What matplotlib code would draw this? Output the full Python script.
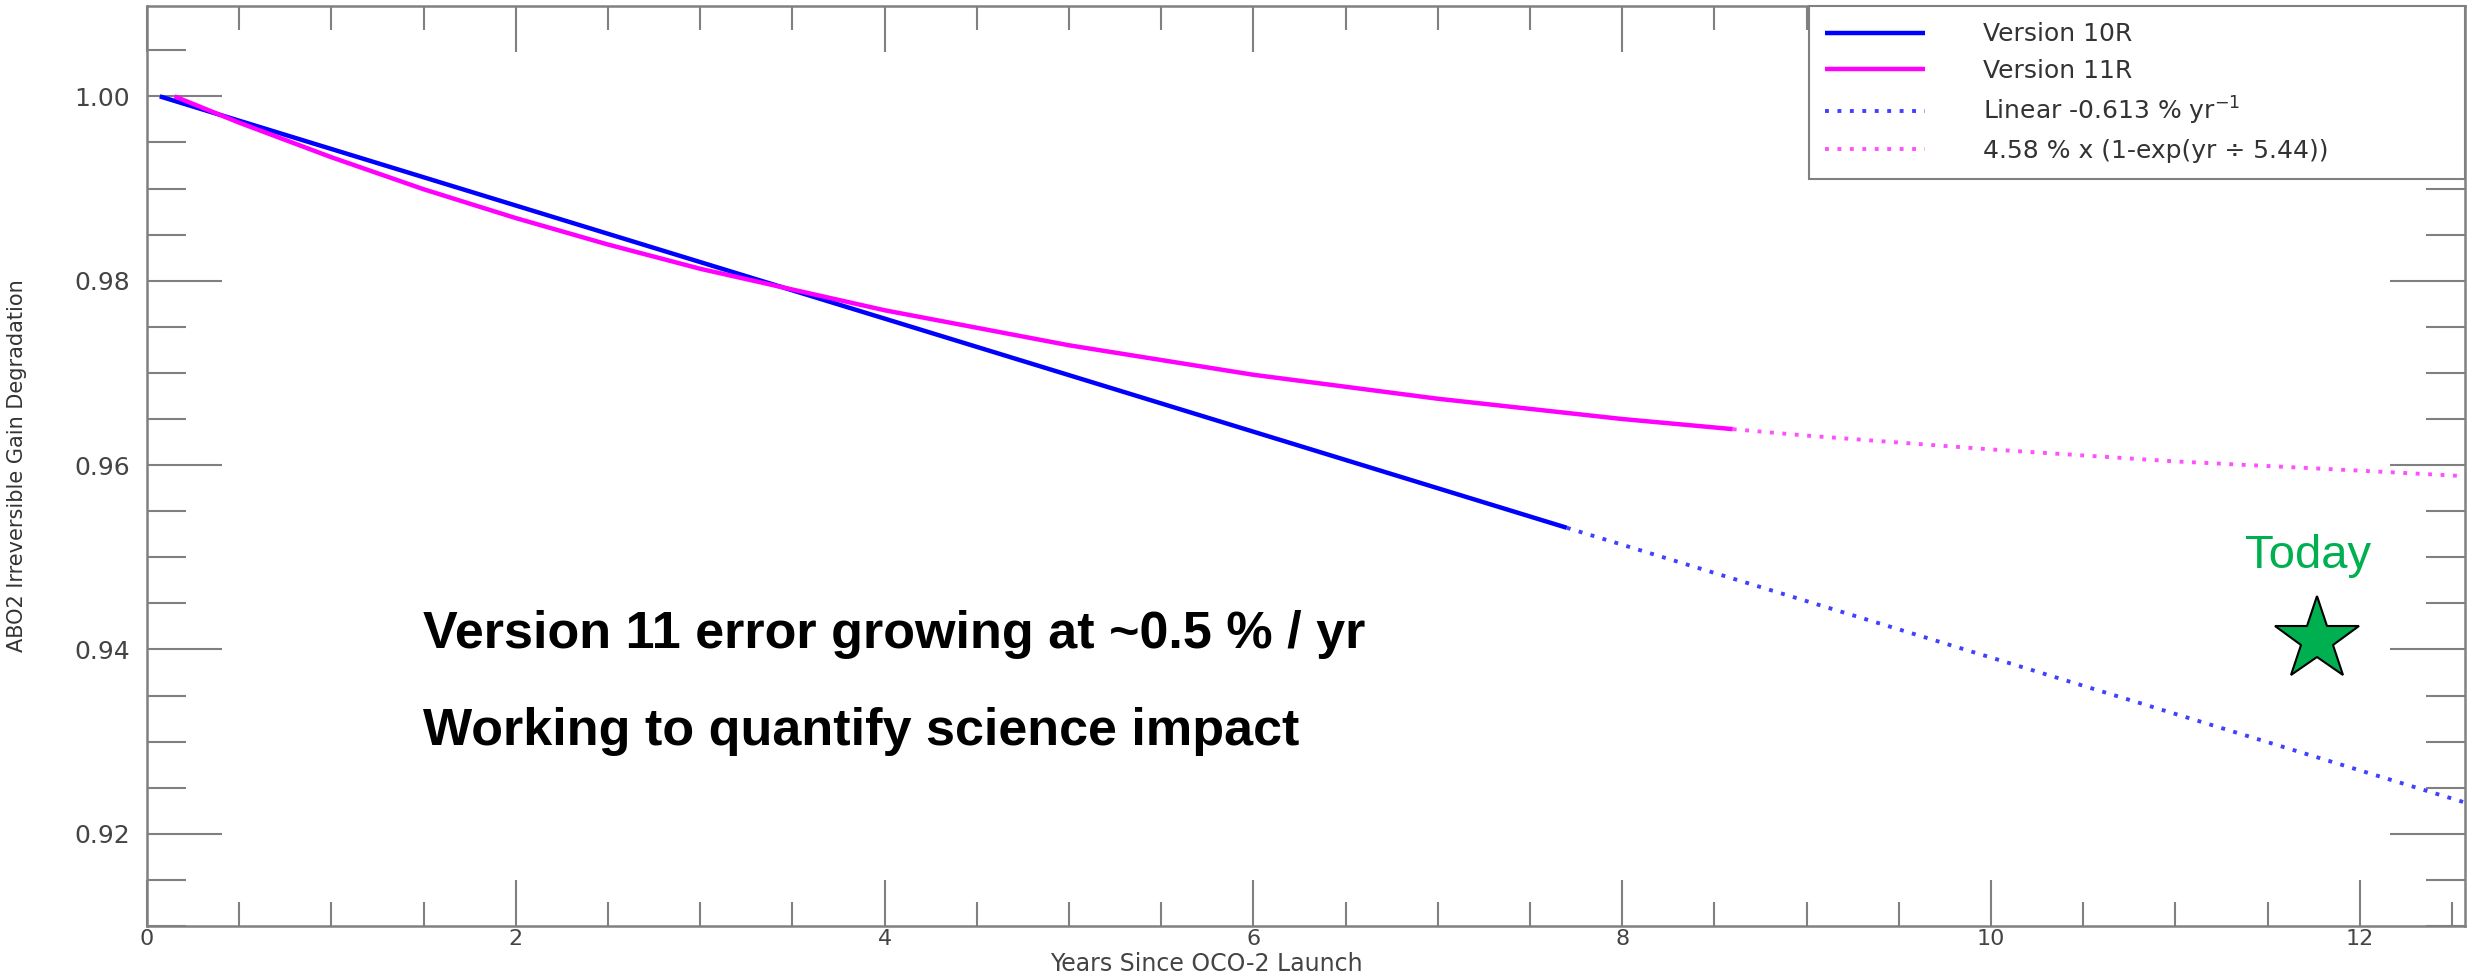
import matplotlib
matplotlib.use('Agg')
import matplotlib.pyplot as plt
from matplotlib.ticker import MultipleLocator, FormatStrFormatter

# values
V10_YEARS = [0.07, 7.7]
V10_GAIN = [1.0, 0.9532]
V10_FIT_YEARS = [7.7, 12.57]
V10_FIT_GAIN = [0.9532, 0.9234]

V11_YEARS = [0.15, 0.5, 1.0, 1.5, 2.0, 2.5, 3.0, 4.0, 5.0, 6.0, 7.0, 8.0, 8.6]
V11_GAIN = [1.0, 0.99715, 0.9934, 0.98993, 0.9868, 0.98393, 0.9813, 0.9768,
            0.9730, 0.9698, 0.9672, 0.9650, 0.9639]
V11_FIT_YEARS = [8.6, 9.0, 10.0, 11.0, 12.0, 12.57]
V11_FIT_GAIN = [0.9639, 0.9632, 0.9617, 0.9604, 0.9594, 0.9588]

TODAY_YEAR = 11.77
TODAY_GAIN = 0.941

LABELS = ['Version 10R', 'Version 11R', r'Linear -0.613 % yr$^{-1}$',
          '4.58 % x (1-exp(yr \u00f7 5.44))']
NOTE_1 = 'Version 11 error growing at ~0.5 % / yr'
NOTE_2 = 'Working to quantify science impact'

GREY = '#808080'
GREEN = '#00b050'

fig = plt.figure(figsize=(24.73, 9.73), dpi=100)
ax = fig.add_axes([0.0594, 0.0483, 0.9373, 0.9455])

ax.plot(V10_YEARS, V10_GAIN, color='#0000ff', lw=3.2, label=LABELS[0], solid_capstyle='butt')
ax.plot(V11_YEARS, V11_GAIN, color='#ff00ff', lw=3.2, label=LABELS[1], solid_capstyle='butt')
ax.plot(V10_FIT_YEARS, V10_FIT_GAIN, color='#4040ff', lw=2.8, ls=(0, (1, 2.2)), label=LABELS[2])
ax.plot(V11_FIT_YEARS, V11_FIT_GAIN, color='#ff50ff', lw=2.8, ls=(0, (1, 2.2)), label=LABELS[3])

ax.plot([TODAY_YEAR], [TODAY_GAIN], marker='*', ms=63, color=GREEN,
        markeredgecolor='black', markeredgewidth=1.5, ls='none')
ax.text(11.72, 0.9488, 'Today', color=GREEN, fontsize=34, family='Liberation Sans',
        ha='center', va='baseline')

ax.text(0.119, 0.3017, NOTE_1, transform=ax.transAxes, fontsize=37.5, weight='bold',
        family='Liberation Sans', va='baseline')
ax.text(0.119, 0.197, NOTE_2, transform=ax.transAxes, fontsize=37.5, weight='bold',
        family='Liberation Sans', va='baseline')

ax.set_xlim(0, 12.57)
ax.set_ylim(0.91, 1.0098)
ax.xaxis.set_major_locator(MultipleLocator(2))
ax.xaxis.set_minor_locator(MultipleLocator(0.5))
ax.yaxis.set_major_locator(MultipleLocator(0.02))
ax.yaxis.set_minor_locator(MultipleLocator(0.005))
ax.yaxis.set_major_formatter(FormatStrFormatter('%.2f'))

ax.tick_params(axis='both', which='both', direction='in', top=True, right=True,
               color=GREY, labelcolor='#444444')
ax.tick_params(axis='y', which='major', length=54, width=1.5, pad=12, labelsize=18)
ax.tick_params(axis='y', which='minor', length=28, width=1.5)
ax.tick_params(axis='x', which='major', length=33, width=1.5, pad=2, labelsize=16)
ax.tick_params(axis='x', which='minor', length=17, width=1.5)
for side in ax.spines.values():
    side.set_color(GREY)
    side.set_linewidth(1.8)

ax.set_xlabel('Years Since OCO-2 Launch', fontsize=17, color='#444444')
ax.xaxis.set_label_coords(0.457, -0.0285)
ax.set_ylabel('ABO2 Irreversible Gain Degradation', fontsize=15, color='#333333')
ax.yaxis.set_label_coords(-0.0518, 0.5)

leg = ax.legend(loc='upper left', bbox_to_anchor=(0.717, 0, 0.283, 1), mode='expand',
                borderaxespad=0, fontsize=18, handlelength=4.0, handletextpad=2.3,
                labelspacing=0.49, borderpad=0.65, fancybox=False, framealpha=1,
                labelcolor='#333333')
leg.get_frame().set_edgecolor(GREY)
leg.get_frame().set_linewidth(1.5)

plt.savefig('out.png', dpi=100)
